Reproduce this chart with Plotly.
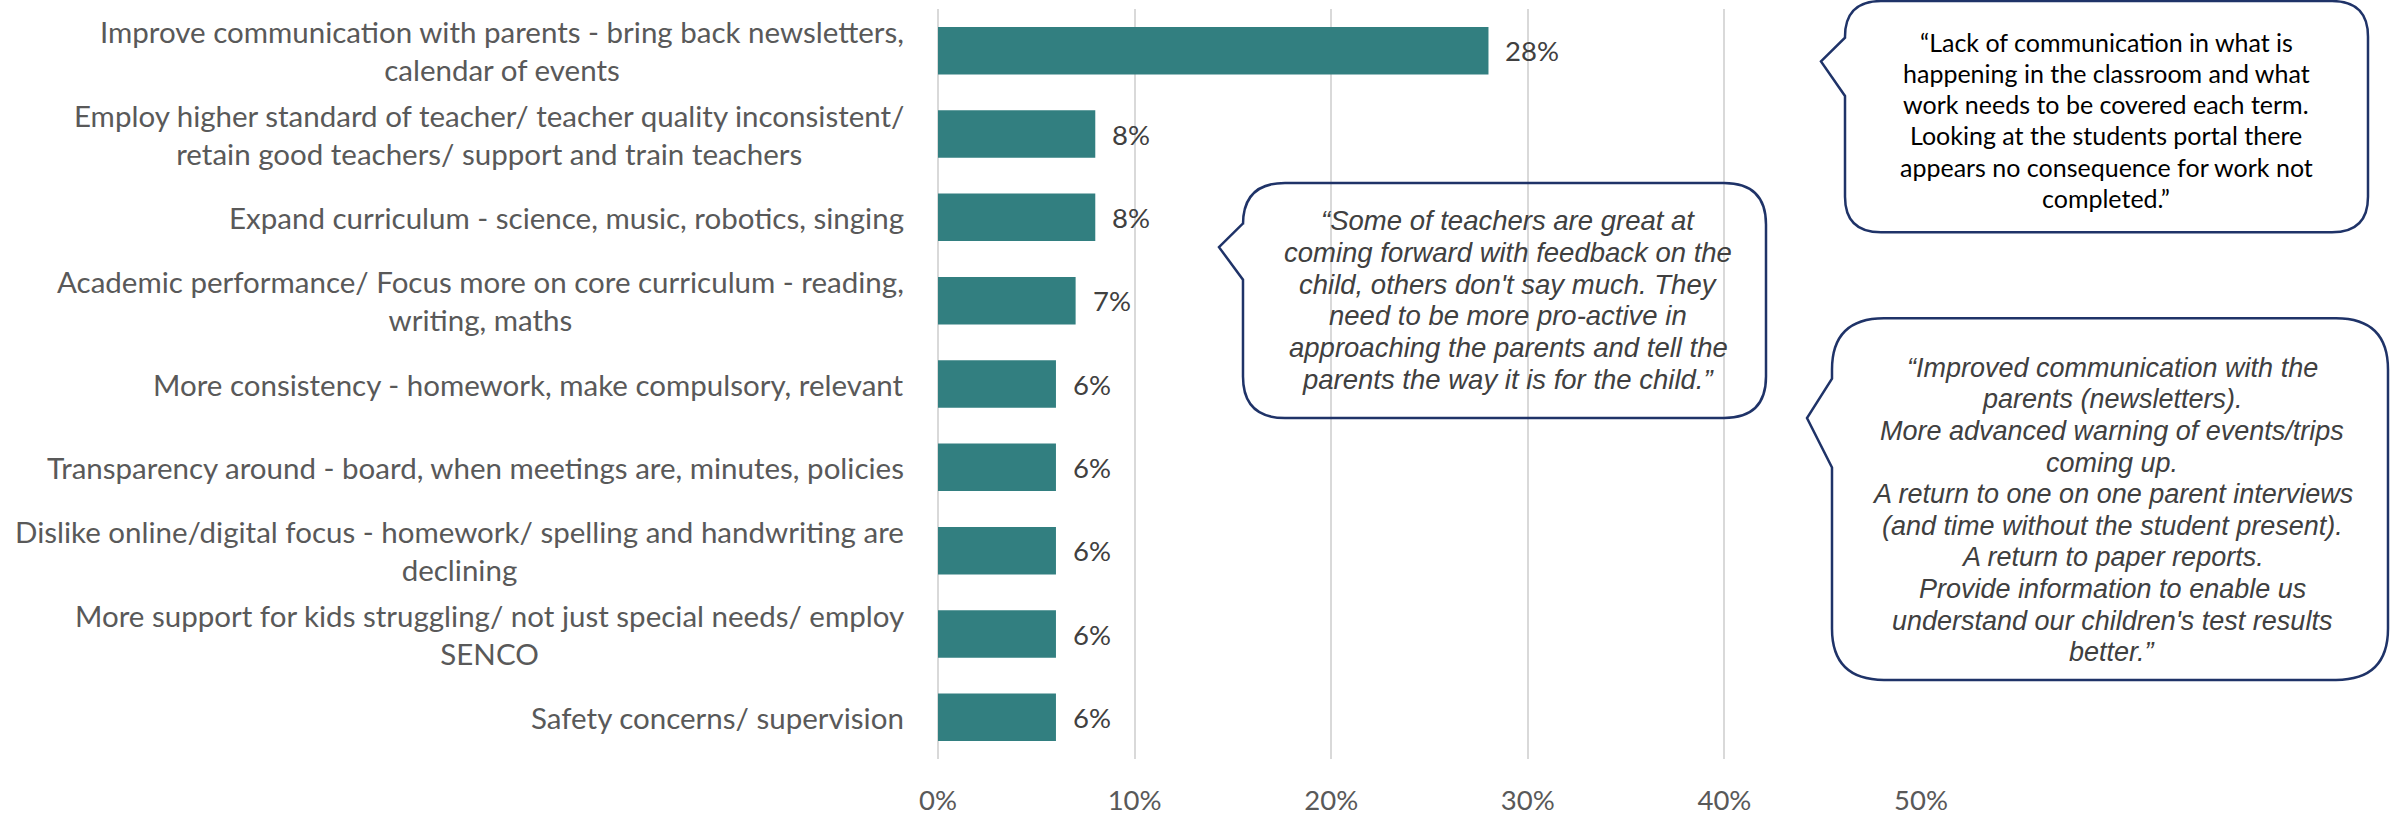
import plotly.graph_objects as go

# Survey responses: suggested improvements (share of respondents)
categories = [
    "Improve communication with parents - bring back newsletters,<br>calendar of events",
    "Employ higher standard of teacher/ teacher quality inconsistent/<br>retain good teachers/ support and train teachers",
    "Expand curriculum - science, music, robotics, singing",
    "Academic performance/ Focus more on core curriculum - reading,<br>writing, maths",
    "More consistency - homework, make compulsory, relevant",
    "Transparency around - board, when meetings are, minutes, policies",
    "Dislike online/digital focus - homework/ spelling and handwriting are<br>declining",
    "More support for kids struggling/ not just special needs/ employ<br>SENCO",
    "Safety concerns/ supervision",
]
shares = [0.28, 0.08, 0.08, 0.07, 0.06, 0.06, 0.06, 0.06, 0.06]
tick_values = [0, 0.1, 0.2, 0.3, 0.4, 0.5]
tick_labels = ["0%", "10%", "20%", "30%", "40%", "50%"]

quote_portal = [
    "\u201cLack of communication in what is",
    "happening in the classroom and what",
    "work needs to be covered each term.",
    "Looking at the students portal there",
    "appears no consequence for work not",
    "completed.\u201d",
]
quote_feedback = [
    "\u201cSome of teachers are great at",
    "coming forward with feedback on the",
    "child, others don't say much. They",
    "need to be more pro-active in",
    "approaching the parents and tell the",
    "parents the way it is for the child.\u201d",
]
quote_newsletters = [
    "\u201cImproved communication with the",
    "parents (newsletters).",
    "More advanced warning of events/trips",
    "coming up.",
    "A return to one on one parent interviews",
    "(and time without the student present).",
    "A return to paper reports.",
    "Provide information to enable us",
    "understand our children's test results",
    "better.\u201d",
]

W, H = 2395, 825
M_L, M_R, M_T, M_B = 938, 474, 9, 57
PW, PH = W - M_L - M_R, H - M_T - M_B

BAR = "#327F80"
GRID = "#D9D9D9"
LABEL = "#595959"
VALUE = "#404040"
NAVY = "#1F3368"


def px(x):
    return (x - M_L) / PW


def py(y):
    return (M_T + PH - y) / PH


def bubble(left, top, right, bottom, r, base_top, base_bot, tip_x, tip_y):
    """Rounded speech bubble with a pointer on its left side (pixel geometry)."""
    pts = [
        ("M", [(left + r, top)]),
        ("L", [(right - r, top)]),
        ("Q", [(right, top), (right, top + r)]),
        ("L", [(right, bottom - r)]),
        ("Q", [(right, bottom), (right - r, bottom)]),
        ("L", [(left + r, bottom)]),
        ("Q", [(left, bottom), (left, bottom - r)]),
        ("L", [(left, base_bot)]),
        ("L", [(tip_x, tip_y)]),
        ("L", [(left, base_top)]),
        ("L", [(left, top + r)]),
        ("Q", [(left, top), (left + r, top)]),
    ]
    path = ""
    for cmd, coords in pts:
        path += cmd + " " + " ".join(f"{px(x):.5f},{py(y):.5f}" for x, y in coords) + " "
    return dict(type="path", path=path + "Z", xref="paper", yref="paper",
                line=dict(color=NAVY, width=2.5), fillcolor="rgba(0,0,0,0)", layer="above")


def quote_lines(lines, cx, cy, spacing, font):
    """One centred annotation per line so the leading can be set exactly."""
    n = len(lines)
    out = []
    for i, line in enumerate(lines):
        y = cy + (i - (n - 1) / 2) * spacing
        out.append(dict(x=px(cx), y=py(y), xref="paper", yref="paper", text=line,
                        showarrow=False, xanchor="center", yanchor="middle", font=font))
    return out


fig = go.Figure(go.Bar(
    x=shares, y=categories, orientation="h",
    marker=dict(color=BAR, line=dict(width=0)),
    hoverinfo="skip",
))

annotations = []
for cat, v in zip(categories, shares):
    annotations.append(dict(
        x=0, y=cat, xref="paper", yref="y", text=cat, showarrow=False,
        xanchor="right", yanchor="middle", align="center", xshift=-32,
        font=dict(family="Lato", size=29.5, color=LABEL),
    ))
    annotations.append(dict(
        x=v, y=cat, xref="x", yref="y", text=f"{v:.0%}", showarrow=False,
        xanchor="left", yanchor="middle", xshift=15,
        font=dict(family="Lato", size=27.5, color=VALUE),
    ))

annotations += quote_lines(quote_portal, 2106, 121, 31.6,
                           dict(family="Lato", size=25, color="#000000"))
annotations += quote_lines(quote_feedback, 1508, 303.5, 32.2,
                           dict(family="Liberation Sans", size=27.5, color=VALUE, style="italic"))
annotations += quote_lines(quote_newsletters, 2112, 516, 32,
                           dict(family="Liberation Sans", size=27, color=VALUE, style="italic"))

shapes = [
    bubble(1845, 1, 2368, 235, 36, 38, 97, 1821, 62),
    bubble(1243, 185, 1766, 423, 42, 226, 283, 1219, 250),
    bubble(1832, 322, 2388, 688, 52, 383, 473, 1807, 423),
]

fig.update_layout(
    width=W, height=H,
    margin=dict(l=M_L, r=M_R, t=M_T, b=M_B, pad=0),
    paper_bgcolor="white", plot_bgcolor="white",
    bargap=0.43, showlegend=False,
    annotations=annotations, shapes=shapes,
    xaxis=dict(
        range=[0, 0.5], tickvals=tick_values, ticktext=tick_labels,
        showgrid=True, gridcolor=GRID, gridwidth=2,
        zeroline=True, zerolinecolor=GRID, zerolinewidth=2,
        showline=False, ticks="", ticklabelstandoff=22,
        tickfont=dict(family="Lato", size=27.5, color=LABEL),
        fixedrange=True,
    ),
    yaxis=dict(
        autorange="reversed", showticklabels=False, showgrid=False,
        zeroline=False, showline=False, ticks="", fixedrange=True,
    ),
)

fig.write_html("out.html", config={"displayModeBar": False})
